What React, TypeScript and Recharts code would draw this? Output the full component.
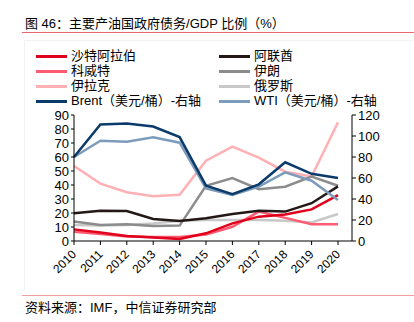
import React from 'react';
import { LineChart, Line, XAxis, YAxis } from 'recharts';

const years = ['2010', '2011', '2012', '2013', '2014', '2015', '2016', '2017', '2018', '2019', '2020'];
const saudi = [8.3, 6, 3.6, 2.5, 1.5, 5.5, 12.6, 17.4, 19, 22.6, 32.8];
const uae = [19.8, 21.6, 21.4, 15.7, 14.3, 16.2, 19.3, 21.6, 21, 27, 39];
const kuwait = [6.6, 5, 3.2, 2.9, 2.9, 4.7, 10.2, 21, 16.5, 12, 12];
const iran = [14, 11.4, 12, 10.7, 11, 39.5, 45, 37, 38.8, 46, 39.5];
const iraq = [53.6, 41, 34.8, 32, 33, 57.4, 67.4, 59.5, 49.5, 46, 84.8];
const russia = [11.5, 11, 11.5, 12.5, 14.5, 15, 15, 15, 14.5, 13.3, 19.3];
const brent = [80, 111, 112, 109, 99, 52.7, 44.5, 54, 75, 64, 60];
const wti = [80, 95.5, 94.6, 98.7, 93.6, 50, 43.8, 51.7, 65.4, 57.4, 39];

const leftTicks = [0, 10, 20, 30, 40, 50, 60, 70, 80, 90];
const rightTicks = [0, 20, 40, 60, 80, 100, 120];

const data = years.map((y, i) => ({
  year: y,
  saudi: saudi[i],
  uae: uae[i],
  kuwait: kuwait[i],
  iran: iran[i],
  iraq: iraq[i],
  russia: russia[i],
  brent: brent[i],
  wti: wti[i],
}));

const series = [
  { key: 'saudi', name: '沙特阿拉伯', color: '#E0001B', axis: 'left' },
  { key: 'uae', name: '阿联酋', color: '#231815', axis: 'left' },
  { key: 'kuwait', name: '科威特', color: '#FF5C74', axis: 'left' },
  { key: 'iran', name: '伊朗', color: '#8C8C8C', axis: 'left' },
  { key: 'iraq', name: '伊拉克', color: '#FFB0B4', axis: 'left' },
  { key: 'russia', name: '俄罗斯', color: '#C8C8C8', axis: 'left' },
  { key: 'brent', name: 'Brent（美元/桶）-右轴', color: '#0B3B6B', axis: 'right' },
  { key: 'wti', name: 'WTI（美元/桶）-右轴', color: '#7D9BBB', axis: 'right' },
];

const drawOrder = ['iraq', 'russia', 'iran', 'kuwait', 'uae', 'saudi', 'wti', 'brent'];

const FONT = '"Liberation Sans", Arial, "Noto Sans CJK SC", sans-serif';

const XTick = (props: any) => {
  const { x, y, payload } = props;
  return (
    <text
      x={x + 3}
      y={y + 8}
      transform={`rotate(-45, ${x + 3}, ${y + 8})`}
      textAnchor="end"
      fontSize={12}
      fill="#000"
      fontFamily={FONT}
    >
      {payload.value}
    </text>
  );
};

export default function App() {
  return (
    <div style={{ position: 'absolute', left: 0, top: 0, width: 414, height: 322, background: '#fff', fontFamily: FONT }}>
      <div style={{ position: 'absolute', left: 25, top: 15, fontSize: 13, color: '#000', whiteSpace: 'nowrap', lineHeight: '18px' }}>
        图 46：主要产油国政府债务/GDP 比例（%）
      </div>
      <div style={{ position: 'absolute', left: 22, top: 32, width: 392, height: 1, background: '#E8686E' }} />
      <div style={{ position: 'absolute', left: 24, top: 40, width: 388, height: 250, borderLeft: '1px solid #F2F2F2', borderTop: '1px solid #F2F2F2' }} />
      <div style={{ position: 'absolute', left: 22, top: 295, width: 392, height: 1, background: '#F0A0A4' }} />
      <div style={{ position: 'absolute', left: 25, top: 299, fontSize: 13, color: '#000', whiteSpace: 'nowrap', lineHeight: '18px' }}>
        资料来源：IMF，中信证券研究部
      </div>
      {series.map((s, i) => {
        const col = i % 2;
        const row = Math.floor(i / 2);
        const left = col === 0 ? 36 : 219;
        const top = 56 + row * 15;
        return (
          <div key={s.key} style={{ position: 'absolute', left, top: top - 8, height: 16, display: 'flex', alignItems: 'center', whiteSpace: 'nowrap' }}>
            <div style={{ width: 31, height: 3, background: s.color }} />
            <span style={{ marginLeft: 4, fontSize: 13, lineHeight: '16px', color: '#000' }}>{s.name}</span>
          </div>
        );
      })}
      <div style={{ position: 'absolute', left: 0, top: 0 }}>
        <LineChart width={414} height={322} data={data} margin={{ top: 115, right: 22, bottom: 36, left: 34 }}>
          <XAxis
            dataKey="year"
            padding={{ left: 0, right: 14 }}
            axisLine={{ stroke: '#000' }}
            tickLine={{ stroke: '#000' }}
            tickSize={4}
            tick={<XTick />}
            interval={0}
            height={45}
          />
          <YAxis
            yAxisId="left"
            orientation="left"
            domain={[0, 90]}
            ticks={leftTicks}
            width={40}
            axisLine={{ stroke: '#000' }}
            tickLine={{ stroke: '#000' }}
            tickSize={3}
            tick={{ fontSize: 13, fill: '#000', fontFamily: FONT }}
            interval={0}
          />
          <YAxis
            yAxisId="right"
            orientation="right"
            domain={[0, 120]}
            ticks={rightTicks}
            width={40}
            axisLine={{ stroke: '#000' }}
            tickLine={{ stroke: '#000' }}
            tickSize={4}
            tick={{ fontSize: 13, fill: '#000', fontFamily: FONT }}
            interval={0}
          />
          {drawOrder.map((k) => {
            const s = series.find((x) => x.key === k)!;
            return (
              <Line
                key={k}
                yAxisId={s.axis}
                dataKey={k}
                stroke={s.color}
                strokeWidth={2.5}
                dot={false}
                type="linear"
                isAnimationActive={false}
              />
            );
          })}
        </LineChart>
      </div>
    </div>
  );
}
